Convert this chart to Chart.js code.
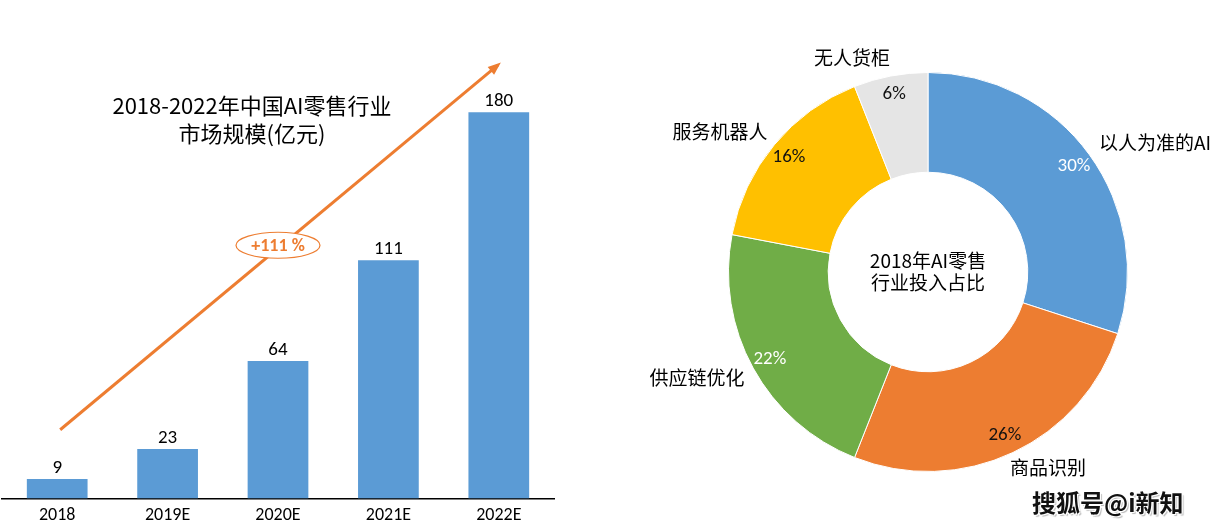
<!DOCTYPE html>
<html>
<head>
<meta charset="utf-8">
<script src="https://cdn.jsdelivr.net/npm/chart.js@4/dist/chart.umd.min.js"></script>
<style>
  body { margin: 0; background: #fff; }
  #wrap { position: relative; width: 1214px; height: 530px; overflow: hidden; }
  .box { position: absolute; top: 0; }
  #left { left: 0; width: 560px; height: 536px; }
  #right { left: 600px; width: 614px; height: 530px; }
  #mark {
    position: absolute; left: 1032px; top: 484px;
    font: bold 24px "Noto Sans CJK SC", sans-serif; color: #111;
    text-shadow: 1px 1px 0 #fff, -1px -1px 0 #fff, 1px -1px 0 #fff, -1px 1px 0 #fff, 2px 2px 1px #bbb;
  }
</style>
</head>
<body>
<div id="wrap">
  <div class="box" id="left"><canvas id="chart-bar"></canvas></div>
  <div class="box" id="right"><canvas id="chart-ring"></canvas></div>
  <div id="mark">搜狐号@i新知</div>
</div>
<script>
// 市场规模(亿元)
const years = ["2018", "2019E", "2020E", "2021E", "2022E"];
const marketSize = [9, 23, 64, 111, 180];
const growthText = "+111 %";

// 2018年AI零售行业投入占比
const segments = ["以人为准的AI", "商品识别", "供应链优化", "服务机器人", "无人货柜"];
const shares = [30, 26, 22, 16, 6];
const segColors = ["#5B9BD5", "#ED7D31", "#70AD47", "#FFC000", "#E5E5E5"];

const cjk = '"Noto Sans CJK SC", sans-serif';
const latin = 'Carlito, Lato, "Open Sans", sans-serif';

const barExtras = {
  id: "barExtras",
  afterDatasetsDraw(chart) {
    const ctx = chart.ctx;
    const xs = chart.scales.x, ys = chart.scales.y;
    const meta = chart.getDatasetMeta(0);

    // value labels
    ctx.save();
    ctx.fillStyle = "#000";
    ctx.font = "19px " + latin;
    ctx.textAlign = "center";
    ctx.textBaseline = "alphabetic";
    meta.data.forEach((bar, i) => {
      ctx.fillText(String(marketSize[i]), bar.x, bar.y - 6);
    });

    // title
    ctx.font = "22px " + cjk;
    ctx.textBaseline = "middle";
    ctx.fillText("2018-2022年中国AI零售行业", 252, 106);
    ctx.fillText("市场规模(亿元)", 252, 134);

    // growth arrow
    const x0 = xs.getPixelForValue(0) + 3, y0 = ys.getPixelForValue(32);
    const x1 = xs.getPixelForValue(4) - 1, y1 = ys.getPixelForValue(202);
    ctx.strokeStyle = "#ED7D31";
    ctx.fillStyle = "#ED7D31";
    ctx.lineWidth = 3;
    ctx.beginPath();
    ctx.moveTo(x0, y0);
    ctx.lineTo(x1, y1);
    ctx.stroke();
    const ang = Math.atan2(y1 - y0, x1 - x0);
    ctx.beginPath();
    ctx.moveTo(x1 + 4 * Math.cos(ang), y1 + 4 * Math.sin(ang));
    ctx.lineTo(x1 - 9 * Math.cos(ang) + 5 * Math.sin(ang), y1 - 9 * Math.sin(ang) - 5 * Math.cos(ang));
    ctx.lineTo(x1 - 9 * Math.cos(ang) - 5 * Math.sin(ang), y1 - 9 * Math.sin(ang) + 5 * Math.cos(ang));
    ctx.closePath();
    ctx.fill();

    // growth label
    const ex = xs.getPixelForValue(2), ey = ys.getPixelForValue(118);
    ctx.beginPath();
    ctx.ellipse(ex, ey, 42, 13, 0, 0, Math.PI * 2);
    ctx.fillStyle = "#fff";
    ctx.fill();
    ctx.lineWidth = 1.2;
    ctx.stroke();
    ctx.fillStyle = "#ED7D31";
    ctx.font = "bold 18px " + latin;
    ctx.fillText(growthText, ex, ey + 1);
    ctx.restore();
  }
};

new Chart(document.getElementById("chart-bar").getContext("2d"), {
  type: "bar",
  data: {
    labels: years,
    datasets: [{
      data: marketSize,
      backgroundColor: "#5B9BD5",
      categoryPercentage: 1,
      barPercentage: 0.55
    }]
  },
  options: {
    responsive: true,
    maintainAspectRatio: false,
    animation: false,
    layout: { padding: { left: 2, right: 6, top: 5, bottom: 4 } },
    plugins: { legend: { display: false }, tooltip: { enabled: false } },
    scales: {
      x: {
        grid: { display: false, drawTicks: false },
        border: { display: true, color: "#000", width: 1.5 },
        ticks: { color: "#000", font: { size: 18, family: latin }, padding: 6 }
      },
      y: { display: false, min: 0, max: 230 }
    }
  },
  plugins: [barExtras]
});

const ringExtras = {
  id: "ringExtras",
  afterDatasetsDraw(chart) {
    const ctx = chart.ctx;
    const meta = chart.getDatasetMeta(0);
    const arc0 = meta.data[0];
    const cx = arc0.x, cy = arc0.y, R = arc0.outerRadius;
    ctx.save();
    ctx.textAlign = "center";
    ctx.textBaseline = "middle";

    // percentage labels
    ctx.font = "19px " + latin;
    meta.data.forEach((arc, i) => {
      const mid = (arc.startAngle + arc.endAngle) / 2;
      const r = R - 19;
      ctx.fillStyle = i === 0 || i === 2 ? "#fff" : "#111";
      ctx.fillText(shares[i] + "%", cx + r * Math.cos(mid), cy + r * Math.sin(mid));
    });

    // category labels
    const offs = [[227, -129], [120, 196], [-231, 106], [-208, -140], [-76, -214]];
    ctx.font = "19px " + cjk;
    ctx.fillStyle = "#000";
    segments.forEach((s, i) => {
      ctx.fillText(s, cx + offs[i][0], cy + offs[i][1]);
    });

    // centre text
    ctx.font = "19px " + cjk;
    ctx.fillText("2018年AI零售", cx, cy - 11);
    ctx.fillText("行业投入占比", cx, cy + 11);
    ctx.restore();
  }
};

new Chart(document.getElementById("chart-ring").getContext("2d"), {
  type: "doughnut",
  data: {
    labels: segments,
    datasets: [{
      data: shares,
      backgroundColor: segColors,
      borderColor: "#fff",
      borderWidth: 1
    }]
  },
  options: {
    responsive: true,
    maintainAspectRatio: false,
    animation: false,
    cutout: "50%",
    layout: { padding: { left: 128, right: 86, top: 72, bottom: 58 } },
    plugins: { legend: { display: false }, tooltip: { enabled: false } }
  },
  plugins: [ringExtras]
});
</script>
</body>
</html>
